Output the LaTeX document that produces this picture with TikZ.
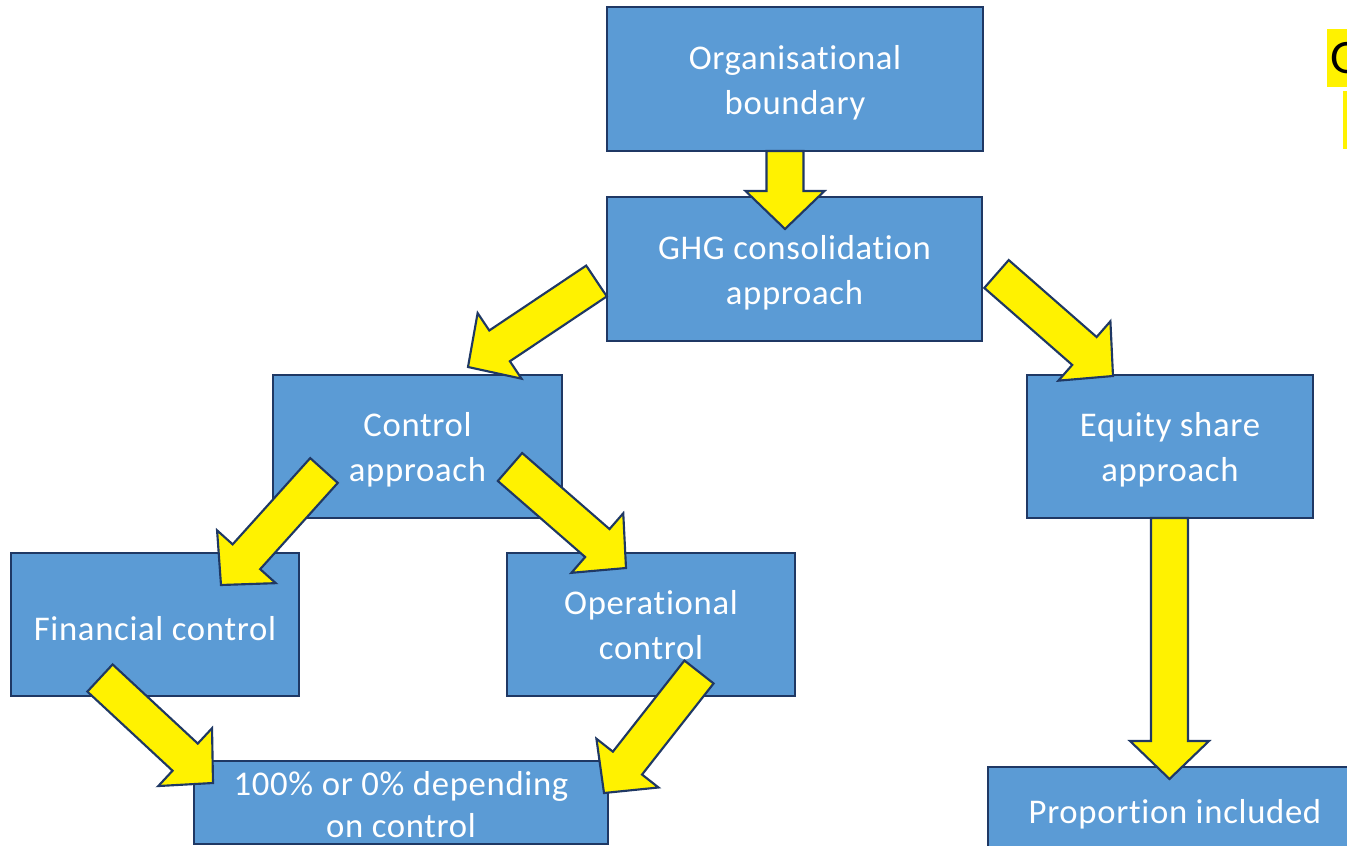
\documentclass[tikz,border=0pt]{standalone}
\usepackage{fontspec}
\setmainfont{Carlito}[Ligatures=NoCommon,LetterSpace=2]
\usetikzlibrary{calc}

\definecolor{boxblue}{HTML}{5B9BD5}
\definecolor{navy}{HTML}{1F3864}

% block arrow from tail centre #1 to tip #2
\newcommand\yarrow[2]{%
  \coordinate (hb) at ($(#2)!28.5pt!(#1)$);
  \draw[blockarr] ($(#1)!13.9pt!90:(#2)$) -- ($(hb)!13.9pt!90:(#2)$)
    -- ($(hb)!29.6pt!90:(#2)$) -- (#2) -- ($(hb)!29.6pt!-90:(#2)$)
    -- ($(hb)!13.9pt!-90:(#2)$) -- ($(#1)!13.9pt!-90:(#2)$) -- cycle;}

\begin{document}
\begin{tikzpicture}[x=0.75pt,y=0.75pt,yscale=-1,
  box/.style={draw=navy,line width=1.5pt,fill=boxblue,text=white,align=center,
    inner sep=0pt,font=\fontsize{26}{34}\selectfont},
  oneline/.style={execute at begin node={\rule{0pt}{24pt}}},
  twoline/.style={text height=53pt,text depth=0pt},
  blockarr/.style={draw=navy,line width=1.6pt,fill=yellow,line join=miter}]
\useasboundingbox (0,0) rectangle (1347,846);
\clip (0,0) rectangle (1347,846);

\node[box,twoline,minimum width=282pt,minimum height=108pt] (org) at (795,79) {Organisational\\boundary};
\node[box,twoline,minimum width=281.25pt,minimum height=108pt] (ghg) at (794.5,269) {GHG consolidation\\approach};
\node[box,twoline,minimum width=216.75pt,minimum height=107.25pt] (ctrl) at (417.5,446.5) {Control\\approach};
\node[box,twoline,minimum width=214.5pt,minimum height=107.25pt] (eq) at (1170,446.5) {Equity share\\approach};
\node[box,oneline,minimum width=216pt,minimum height=107.25pt] (fin) at (155,624.5) {Financial control};
\node[box,twoline,minimum width=216pt,minimum height=107.25pt] (op) at (651,624.5) {Operational\\control};
\node[box,twoline,minimum width=310.5pt,minimum height=62.25pt,
  font=\fontsize{26}{31.5}\selectfont] (pct) at (401,802.5) {100\% or 0\% depending\\on control};
\node[box,oneline,minimum width=280.5pt,minimum height=64.5pt] (prop) at (1175,810) {Proportion included};

% highlighted note running off the right edge
\node[fill=yellow,anchor=north west,inner xsep=2.25pt,inner ysep=0pt,minimum height=43.5pt,
  font=\fontsize{36}{43}\selectfont] (note) at (1327,29) {G};
\fill[yellow] (1343,91) rectangle (1350,149);

% arrow ends
\coordinate (a1) at (785,151);    \coordinate (b1) at (785,229);
\coordinate (a2) at (596.5,281);  \coordinate (b2) at (468,367);
\coordinate (a3) at (996.5,274);  \coordinate (b3) at (1113,376);
\coordinate (a4) at (324,470.5);  \coordinate (b4) at (221,585);
\coordinate (a5) at (510,467);    \coordinate (b5) at (626,568);
\coordinate (a6) at (1169.5,518); \coordinate (b6) at (1169.5,779);
\coordinate (a7) at (100,678);    \coordinate (b7) at (213,783);
\coordinate (a8) at (699,672);    \coordinate (b8) at (604,793);

\yarrow{a1}{b1}
\yarrow{a2}{b2}
\yarrow{a3}{b3}
\yarrow{a4}{b4}
\yarrow{a5}{b5}
\yarrow{a6}{b6}
\yarrow{a7}{b7}
\yarrow{a8}{b8}
\end{tikzpicture}
\end{document}
